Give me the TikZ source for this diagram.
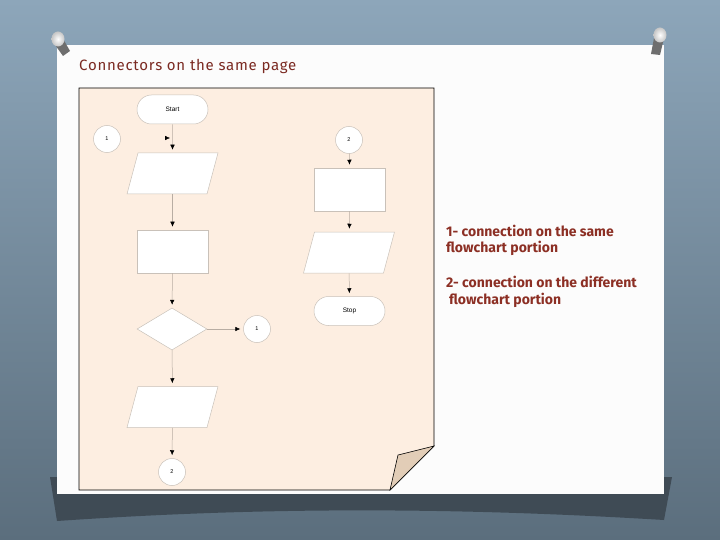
\documentclass[tikz,border=0pt]{standalone}
\usepackage{fontspec}
\setmainfont{Liberation Sans}
\newfontfamily\slidefont{Fira Sans}
\newfontfamily\titlefont[LetterSpace=5]{Fira Sans}
\usetikzlibrary{shapes.geometric,shapes.misc,arrows.meta}

\definecolor{slidetop}{HTML}{8DA6BA}
\definecolor{slidebottom}{HTML}{5B6E7D}
\definecolor{bandgrey}{HTML}{3F4B55}
\definecolor{paper}{HTML}{FDEEE1}
\definecolor{fold}{HTML}{E2CDB7}
\definecolor{titlered}{HTML}{7B2A22}
\definecolor{notered}{HTML}{8C2F24}
\definecolor{boxline}{HTML}{C9C1B9}
\definecolor{flowline}{HTML}{B8ADA3}
\definecolor{pingrey}{HTML}{6E6E6E}

\tikzset{
  procbox/.style={rectangle,fill=white,draw=boxline,line width=0.5pt,minimum width=71pt,minimum height=43pt,inner sep=0pt},
  iobox/.style={trapezium,trapezium left angle=75,trapezium right angle=105,fill=white,draw=boxline,line width=0.5pt,inner xsep=34.5pt,inner ysep=20.5pt},
  termbox/.style={rounded rectangle,fill=white,draw=boxline,line width=0.5pt,minimum width=71pt,minimum height=29pt,inner sep=0pt,font=\fontsize{6.5}{7}\selectfont},
  decbox/.style={diamond,fill=white,draw=boxline,line width=0.5pt,minimum width=70pt,minimum height=42pt,inner sep=0pt},
  joinbox/.style={circle,fill=white,draw=boxline,line width=0.5pt,minimum size=27pt,inner sep=0pt,font=\fontsize{5.5}{6}\selectfont},
  flowarrow/.style={draw=flowline,line width=0.5pt,-{Latex[length=5pt,width=4.5pt,black]},shorten >=3pt}
}

\begin{document}
\begin{tikzpicture}[x=1pt,y=-1pt]
		\useasboundingbox (0,0) rectangle (720,540);

		% slide background
		\shade[top color=slidetop,bottom color=slidebottom] (0,0) rectangle (720,540);
		\fill[bandgrey] (50,477) -- (672,477) -- (664,520) .. controls (450,507) and (260,507) .. (57,521) -- cycle;
		\fill[white!98!gray] (57,45) rectangle (664,494);

		% pins
		\fill[pingrey] (53,42) -- (62,37) -- (70,51) -- (63,56) -- cycle;
		\shade[inner color=white,outer color=gray!45] (58,39) ellipse (6.5 and 7.5);
		\fill[pingrey] (654,38) -- (664,38) -- (660,55) -- (651,54) -- cycle;
		\shade[inner color=white,outer color=gray!45] (660,35) ellipse (6.5 and 7.5);

		\node[anchor=west,inner sep=0pt,text=titlered,font=\titlefont\fontsize{15}{17}\selectfont] (title) at (79,66) {Connectors on the same page};

		% flowchart sheet
		\draw[fill=paper,line width=0.8pt] (79,88) -- (434,88) -- (434,446) -- (390,490) -- (79,490) -- cycle;
		\draw[fill=fold,line width=0.6pt] (434,446) -- (398,455) -- (390,490) -- cycle;

		\small
		\node[termbox] (start) at (172.5,109.5) {Start};
		\node[iobox] (io1) at (172.5,173.5) {};
		\node[procbox] (proc1) at (172.5,251.5) {};
		\node[decbox] (dec) at (172,329) {};
		\node[iobox] (io2) at (172.5,407) {};
		\node[joinbox] (onA) at (107,139) {1};
		\node[joinbox] (onB) at (257,329) {1};
		\node[joinbox] (offA) at (172,472) {2};

		\node[joinbox] (offB) at (349,140) {2};
		\node[procbox] (proc2) at (350,189.5) {};
		\node[iobox] (io3) at (349,252.5) {};
		\node[termbox] (stop) at (349.5,311) {Stop};

		\draw[flowarrow] (start) -- (io1);
		\draw[flowarrow] (io1) -- (proc1);
		\draw[flowarrow] (proc1) -- (dec);
		\draw[flowarrow] (dec) -- (onB);
		\draw[flowarrow] (dec) -- (io2);
		\draw[flowarrow] (io2) -- (offA);
		\draw[flowarrow] (offB) -- (proc2);
		\draw[flowarrow] (proc2) -- (io3);
		\draw[flowarrow] (io3) -- (stop);

		\coordinate (entry) at (170,138);
		\draw[-{Latex[length=5pt,width=4.5pt]}] ([xshift=-5pt]entry) -- (entry);

		% notes
		\node[anchor=north west,inner sep=0pt,align=left,text=notered,font=\slidefont\bfseries\fontsize{14}{16.5}\selectfont] (notes) at (446,224.5)
			{1- connection on the same\\flowchart portion\\[18.5pt]2- connection on the different\\\hspace*{3pt}flowchart portion};
	\end{tikzpicture}
\end{document}
